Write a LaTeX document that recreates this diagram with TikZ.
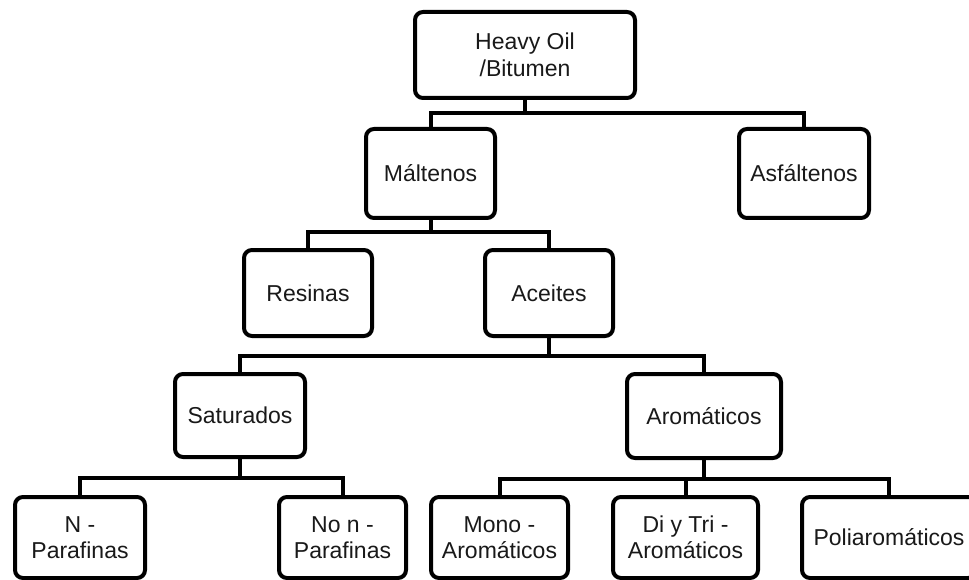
\documentclass[tikz,border=0pt]{standalone}
\usepackage{fontspec}
\setmainfont{Liberation Sans}
\begin{document}
\begin{tikzpicture}[x=1pt,y=-1pt,
  box/.style={draw=black, line width=4pt, rounded corners=8pt, fill=white,
    align=center, inner sep=0pt, font=\fontsize{23}{26.5}\selectfont,
    text=black!90},
  link/.style={draw=black, line width=4pt}]
\clip (0,0) rectangle (969,580);
\fill[white] (0,0) rectangle (969,580);
% nodes
\node[box, minimum width=220pt, minimum height=86pt] (heavy) at (525,55) {Heavy Oil\\/Bitumen};
\node[box, minimum width=129pt, minimum height=89pt] (malt) at (430.5,173.5) {Máltenos};
\node[box, minimum width=130pt, minimum height=89pt] (asf) at (804,173.5) {Asfáltenos};
\node[box, minimum width=128pt, minimum height=86pt] (res) at (308,293) {Resinas};
\node[box, minimum width=128pt, minimum height=86pt] (ace) at (549,293) {Aceites};
\node[box, minimum width=130pt, minimum height=83pt] (sat) at (240,415.5) {Saturados};
\node[box, minimum width=154pt, minimum height=84pt] (aro) at (704,416) {Aromáticos};
\node[box, minimum width=130pt, minimum height=81pt] (npar) at (80,537.5) {N -\\Parafinas};
\node[box, minimum width=127pt, minimum height=81pt] (nonpar) at (342.5,537.5) {No n -\\Parafinas};
\node[box, minimum width=137pt, minimum height=81pt] (mono) at (499.5,537.5) {Mono -\\Aromáticos};
\node[box, minimum width=145pt, minimum height=81pt] (ditri) at (685.5,537.5) {Di y Tri -\\Aromáticos};
\node[box, minimum width=174pt, minimum height=81pt] (poli) at (889,537.5) {Poliaromáticos};
% branch points
\coordinate (b1) at (525,113);
\coordinate (b2) at (430.5,232);
\coordinate (b3) at (549,355.5);
\coordinate (b4) at (240,478);
\coordinate (b5) at (704,479);
% connectors
\draw[link] (heavy.south) -- (b1);
\draw[link] (malt.north) |- (b1) -| (asf.north);
\draw[link] (malt.south) -- (b2);
\draw[link] (res.north) |- (b2) -| (ace.north);
\draw[link] (ace.south) -- (b3);
\draw[link] (sat.north) |- (b3) -| (aro.north);
\draw[link] (sat.south) -- (b4);
\draw[link] (npar.north) |- (b4) -| (nonpar.north);
\draw[link] (aro.south) -- (b5);
\draw[link] (mono.north) |- (b5) -| (poli.north);
\draw[link] (ditri.north) -- (ditri.north |- b5);
\end{tikzpicture}
\end{document}
